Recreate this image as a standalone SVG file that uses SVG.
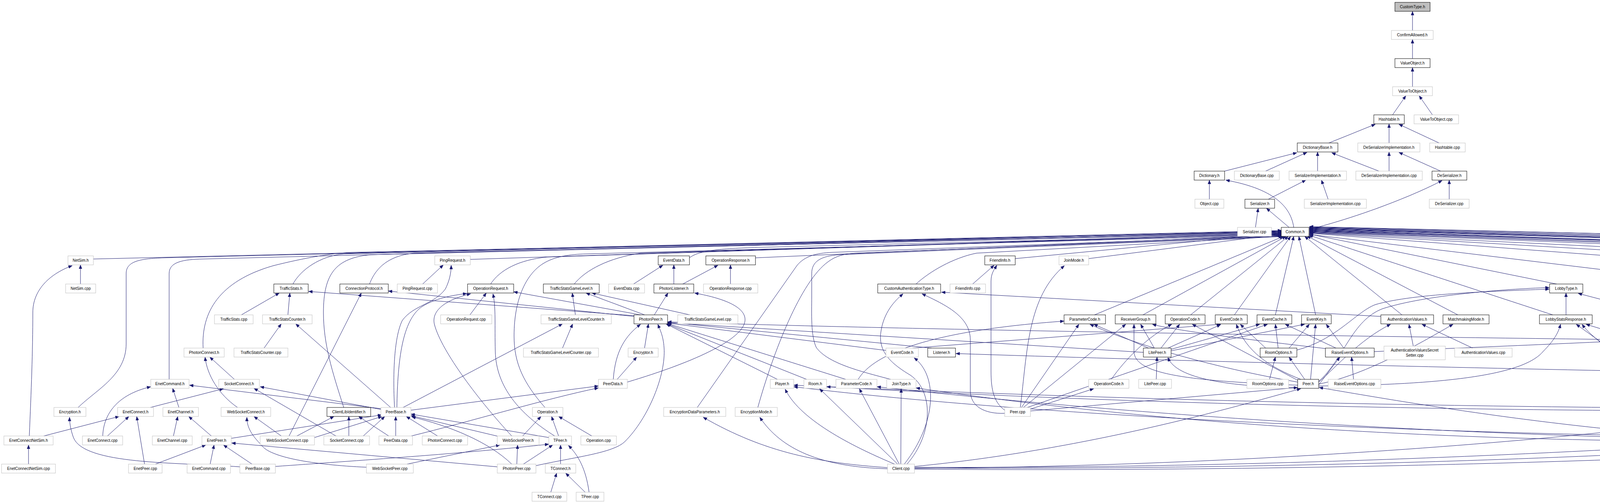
<svg xmlns="http://www.w3.org/2000/svg" width="6808" height="1285" viewBox="0 0 6808 1285">
<defs>
<style>
.n rect{fill:#ffffff;stroke:#bfbfbf;stroke-width:1}
.b rect{stroke:#000000}
.f rect{fill:#bfbfbf;stroke:#000000}
.n text{font-family:"Liberation Sans",Arial,sans-serif;font-size:10px;text-anchor:middle;fill:#000000}
#edges path{fill:none;stroke:#191970;stroke-width:1;marker-end:url(#a)}
</style>
<marker id="a" markerWidth="10" markerHeight="8" refX="10" refY="4" orient="auto" markerUnits="userSpaceOnUse"><path d="M0,0 L10,4 L0,8 z" fill="#191970" stroke="#191970" stroke-width="0.5"/></marker>
</defs>
<rect x="0" y="0" width="6808" height="1285" fill="#ffffff"/>
<g id="edges">
<path d="M3616,78 L3616,29"/>
<path d="M3616,150 L3616,101"/>
<path d="M3616,222 L3616,173"/>
<path d="M3565,294 L3599,245"/>
<path d="M3667,294 L3633,245"/>
<path d="M3402,366 L3521,318"/>
<path d="M3556,366 L3556,317"/>
<path d="M3684,366 L3581,318"/>
<path d="M3135,438 L3320,391"/>
<path d="M3240,438 L3346,390"/>
<path d="M3373,438 L3373,389"/>
<path d="M3530,438 L3409,391"/>
<path d="M3556,438 L3556,389"/>
<path d="M3688,438 L3581,390"/>
<path d="M3096,510 L3096,461"/>
<path d="M3312,582 C3305,535 3270,485 3138,461"/>
<path d="M3247,510 L3343,461"/>
<path d="M3400,510 L3383,461"/>
<path d="M3214,582 L3221,533"/>
<path d="M3300,582 L3242,533"/>
<path d="M3352,587 C3480,555 3620,500 3692,462"/>
<path d="M3710,510 L3710,461"/>
<path d="M239,663 L3281,590"/>
<path d="M200,1043 C250,995 323,960 323,880 L323,700 C323,668 360,662 420,660 L3281,591"/>
<path d="M433,971 L433,700 C433,670 470,664 520,663 L3281,592"/>
<path d="M750,727 C770,690 820,655 880,650 L3281,593"/>
<path d="M520,891 C515,800 560,720 700,680 C780,660 850,648 900,646 L3281,594"/>
<path d="M880,1043 C850,950 828,880 828,800 C828,700 860,660 950,652 L3281,595"/>
<path d="M1204,664 L3281,596"/>
<path d="M946,727 C960,690 990,655 1060,648 L3281,597"/>
<path d="M1256,727 C1280,690 1330,665 1400,658 L3281,598"/>
<path d="M1470,727 C1500,690 1560,660 1640,648 L3281,599"/>
<path d="M1765,660 C1790,640 1850,636 1950,633 L3281,600"/>
<path d="M1934,660 L3281,601"/>
<path d="M1395,1043 C1340,980 1316,930 1316,860 C1316,760 1350,700 1390,675 C1420,656 1460,651 1500,650 L3281,602"/>
<path d="M1785,1043 L2040,680 C2060,655 2090,648 2130,646 L3281,603"/>
<path d="M1940,1043 C1980,900 2050,720 2120,670 C2140,655 2160,650 2190,648 L3283,604"/>
<path d="M2280,971 C2200,950 2120,930 2090,890 C2075,860 2078,800 2078,760 L2078,700 C2078,670 2100,655 2150,652 L3284,605"/>
<path d="M2345,727 C2380,695 2440,660 2500,648 L3285,605"/>
<path d="M2599,662 L3281,597"/>
<path d="M2787,662 L3281,599"/>
<path d="M2802,806 L3286,605"/>
<path d="M2926,806 L3292,605"/>
<path d="M3048,806 L3298,605"/>
<path d="M3160,806 L3304,605"/>
<path d="M3265,806 L3312,605"/>
<path d="M3368,806 L3325,605"/>
<path d="M3589,806 L3340,605"/>
<path d="M3732,806 L3346,604"/>
<path d="M3975,806 L3351,602"/>
<path d="M3985,727 L3351,599"/>
<path d="M4198,661 L3352,597"/>
<path d="M4290,806 C4260,760 4200,700 4100,690 L3352,600"/>
<path d="M4451,660 L3352,596"/>
<path d="M4590,655 L3352,595"/>
<path d="M4880,655 L3352,594"/>
<path d="M4886,971 C4886,860 4860,720 4780,660 C4760,645 4730,642 4700,642 L3352,593"/>
<path d="M5098,806 C5080,730 5050,670 5000,650 L3352,592"/>
<path d="M5097,1116 C5060,1050 5000,1000 4996,940 L4996,700 C4996,660 4980,645 4950,640 L3352,591"/>
<path d="M5240,806 C5200,740 5140,690 5080,665 C5050,652 5020,648 4990,646 L3352,590"/>
<path d="M5374,727 C5330,690 5250,660 5150,650 L3352,589"/>
<path d="M5512,727 C5450,690 5350,660 5250,652 L3352,588"/>
<path d="M5740,971 C5900,935 5985,900 5965,860 C5945,830 5820,845 5700,840 C5660,838 5640,800 5640,760 C5640,700 5580,660 5480,650 L3352,587"/>
<path d="M5905,971 C5990,940 6010,890 5990,850 C5970,815 5920,790 5800,790 C5720,790 5700,760 5690,720 C5680,680 5620,655 5530,650 L3352,586"/>
<path d="M5800,655 L3352,585"/>
<path d="M5850,727 C5810,700 5770,665 5720,652 L3352,584"/>
<path d="M6060,655 L3352,583"/>
<path d="M6421,660 L3352,582"/>
<path d="M6293,891 C6270,780 6210,680 6150,645 L3352,581"/>
<path d="M6418,891 C6360,790 6300,690 6200,648 L3352,580"/>
<path d="M206,727 L206,678"/>
<path d="M75,1116 C80,1000 84,900 84,800 C84,740 130,700 185,680"/>
<path d="M112,1116 L305,1066"/>
<path d="M73,1188 L73,1139"/>
<path d="M614,1195 C450,1183 215,1190 188,1120 C180,1098 178,1080 178,1068"/>
<path d="M385,1043 L572,995"/>
<path d="M275,1116 L330,1066"/>
<path d="M263,1116 C265,1060 300,1010 386,990"/>
<path d="M458,1043 L442,994"/>
<path d="M444,1116 L455,1066"/>
<path d="M541,1116 L483,1066"/>
<path d="M592,1122 L977,1062"/>
<path d="M398,1188 L527,1139"/>
<path d="M370,1188 L350,1066"/>
<path d="M538,1188 L548,1139"/>
<path d="M645,1188 L572,1139"/>
<path d="M1273,1195 L593,1134"/>
<path d="M618,806 L715,750"/>
<path d="M737,806 L742,750"/>
<path d="M676,891 L720,829"/>
<path d="M1000,1043 L757,829"/>
<path d="M1623,808 L790,746"/>
<path d="M600,971 L537,914"/>
<path d="M608,1043 C560,1010 530,960 525,914"/>
<path d="M720,1116 L650,1066"/>
<path d="M760,1116 L855,1066"/>
<path d="M740,1116 L925,750"/>
<path d="M975,1048 L666,990"/>
<path d="M975,1046 L485,986"/>
<path d="M860,1116 L650,994"/>
<path d="M893,1116 L893,1066"/>
<path d="M930,1116 L985,1066"/>
<path d="M938,1196 C800,1190 690,1170 670,1140 C640,1110 632,1090 632,1068"/>
<path d="M1082,727 L1135,678"/>
<path d="M1010,1043 C1005,950 1010,860 1030,820 C1060,780 1110,780 1140,740 C1150,720 1155,700 1155,679"/>
<path d="M1203,806 L1245,750"/>
<path d="M1016,1043 C1018,920 1030,820 1080,785 C1120,760 1170,755 1195,751"/>
<path d="M1310,1116 C1230,1030 1130,900 1112,830 C1105,800 1130,770 1205,752"/>
<path d="M1420,1116 C1330,1060 1270,990 1268,900 C1266,830 1270,790 1262,752"/>
<path d="M1640,806 L1315,747"/>
<path d="M1623,810 L994,745"/>
<path d="M1473,806 L1465,750"/>
<path d="M1440,891 L1466,829"/>
<path d="M1032,1043 L1440,829"/>
<path d="M1650,806 L1500,750"/>
<path d="M1766,806 L1515,750"/>
<path d="M1622,727 L1697,679"/>
<path d="M1725,727 L1725,678"/>
<path d="M1748,727 L1838,679"/>
<path d="M1870,727 L1870,678"/>
<path d="M1675,806 L1710,750"/>
<path d="M1650,891 L1660,829"/>
<path d="M1570,971 C1575,900 1600,860 1640,830"/>
<path d="M1580,971 L1630,914"/>
<path d="M1606,978 C1700,950 1880,890 1905,830 C1920,790 1860,765 1778,750"/>
<path d="M1052,1050 L1532,988"/>
<path d="M1053,1116 C1200,1080 1400,1020 1532,993"/>
<path d="M995,1116 L918,1066"/>
<path d="M1013,1116 L1013,1066"/>
<path d="M1120,1116 L1040,1066"/>
<path d="M1280,1118 L1052,1064"/>
<path d="M1405,1120 L1052,1060"/>
<path d="M1310,1188 C1250,1130 1150,1090 1054,1067"/>
<path d="M805,1120 L978,1066"/>
<path d="M705,1194 C900,1180 1200,1160 1405,1137"/>
<path d="M1338,1116 L1385,1066"/>
<path d="M1430,1116 L1412,1066"/>
<path d="M1515,1116 L1430,1066"/>
<path d="M1042,1188 L1280,1139"/>
<path d="M1323,1188 L1325,1139"/>
<path d="M1340,1188 L1415,1139"/>
<path d="M1435,1188 L1435,1139"/>
<path d="M1410,1260 L1425,1211"/>
<path d="M1498,1260 L1448,1211"/>
<path d="M1508,1260 C1500,1200 1480,1165 1455,1140"/>
<path d="M1372,1192 C1470,1170 1570,1160 1600,1130 C1660,1070 1705,960 1700,890 C1698,860 1690,845 1684,830"/>
<path d="M2927,902 L1709,826"/>
<path d="M1990,971 L1705,829"/>
<path d="M2065,971 L1707,829"/>
<path d="M2165,971 L1708,828"/>
<path d="M2268,897 L1709,827"/>
<path d="M2385,891 L1709,825"/>
<path d="M6065,900 C5200,875 3000,865 1709,824"/>
<path d="M2272,1197 C2100,1185 1960,1160 1800,1068"/>
<path d="M2272,1200 C2100,1195 2000,1150 1945,1068"/>
<path d="M2290,1188 C2200,1150 2050,1080 2010,996"/>
<path d="M2298,1188 L2098,995"/>
<path d="M2302,1188 L2200,995"/>
<path d="M2306,1188 L2307,995"/>
<path d="M2315,1188 C2400,1080 2400,960 2340,916"/>
<path d="M2322,1188 C2390,1110 2390,1000 2330,960 C2280,930 2248,900 2255,850 C2262,800 2290,770 2312,752"/>
<path d="M2341,1196 C3200,1200 4000,1160 4454,1132"/>
<path d="M2341,1198 C3500,1205 4900,1150 5190,1066"/>
<path d="M2341,1194 C2800,1150 3200,1030 3330,995"/>
<path d="M2341,1199 C3500,1190 4500,1080 4858,1000"/>
<path d="M2341,1201 C3600,1210 4600,1160 5029,1136"/>
<path d="M2197,971 C2240,900 2400,845 2724,822"/>
<path d="M2336,891 L3125,830"/>
<path d="M2572,1050 C2545,1030 2537,1000 2537,950 L2537,720 C2537,700 2545,690 2552,679"/>
<path d="M2572,1058 C2520,1060 2484,1040 2484,1000 L2484,870 C2484,810 2420,780 2360,752"/>
<path d="M3535,810 L2410,748"/>
<path d="M2490,727 L2545,679"/>
<path d="M2612,1043 C2630,900 2630,760 2725,680"/>
<path d="M2615,1043 L2762,830"/>
<path d="M2620,1043 L2882,830"/>
<path d="M2635,1048 L2800,995"/>
<path d="M2638,1052 L3322,992"/>
<path d="M2630,1043 L3245,830"/>
<path d="M2940,891 L2800,830"/>
<path d="M2955,891 L2920,830"/>
<path d="M2972,891 L3020,830"/>
<path d="M2990,891 L3125,831"/>
<path d="M2995,895 L3225,830"/>
<path d="M2998,898 L3340,830"/>
<path d="M2960,971 L2962,914"/>
<path d="M2845,971 C2880,920 2940,860 3000,830"/>
<path d="M3322,978 C3100,940 2900,880 2790,830"/>
<path d="M3322,986 C3050,975 2905,960 2903,900 L2903,830"/>
<path d="M3325,975 L3052,830"/>
<path d="M3330,971 C3250,940 3190,900 3165,830"/>
<path d="M3355,971 L3368,830"/>
<path d="M3340,971 L3300,914"/>
<path d="M3322,992 C3150,990 3010,970 2990,915"/>
<path d="M3272,891 L3265,830"/>
<path d="M3300,891 L3352,830"/>
<path d="M3240,891 L3175,830"/>
<path d="M3320,896 C3420,870 3470,800 3520,780 C3620,750 3850,745 3966,740"/>
<path d="M3250,971 L3265,914"/>
<path d="M3420,891 L3290,830"/>
<path d="M3440,891 L3395,830"/>
<path d="M3400,893 C3200,870 3000,845 2950,830"/>
<path d="M3518,900 C4000,880 4700,850 5060,825"/>
<path d="M3465,971 L3460,914"/>
<path d="M3376,985 L3430,914"/>
<path d="M4454,1125 C4000,1100 3600,1030 3377,992"/>
<path d="M3376,978 C3420,940 3480,870 3560,830"/>
<path d="M3376,983 C3500,960 3650,870 3720,830"/>
<path d="M3376,988 C3700,985 3900,960 3950,900 C3980,870 3990,850 3995,830"/>
<path d="M3376,976 C3440,920 3460,820 3540,790 C3650,755 3850,740 3966,736"/>
<path d="M3618,886 L3607,830"/>
<path d="M3770,891 L3640,830"/>
<path d="M4009,806 L4009,750"/>
<path d="M4250,806 L4040,751"/>
<path d="M4120,891 L4035,830"/>
<path d="M4150,891 L4250,830"/>
<path d="M4454,1124 C4300,1105 4180,1080 4155,1020 C4140,980 4135,950 4135,915"/>
<path d="M4454,1121 C4300,1000 4100,900 4050,830"/>
<path d="M4260,891 L4060,830"/>
<path d="M4590,891 L4330,830"/>
<path d="M4470,1116 L4280,679"/>
<path d="M4486,1116 C4490,1010 4492,900 4440,860 C4410,840 4370,833 4336,830"/>
<path d="M4511,1130 C4700,1100 4950,1050 4950,960 L4950,760 C4950,720 4930,700 4921,679"/>
<path d="M4511,1127 L4860,996"/>
<path d="M4492,1116 C4560,1020 4740,950 4744,910 C4748,860 4680,830 4660,790 C4650,770 4645,760 4645,751"/>
<path d="M4625,727 L4525,679"/>
<path d="M4641,727 L4641,678"/>
<path d="M4522,806 L4502,679"/>
<path d="M4540,806 L4625,751"/>
<path d="M4770,806 L4660,679"/>
<path d="M4760,806 L4670,751"/>
<path d="M4660,1043 C4760,1000 4790,930 4776,900 C4750,860 4660,830 4640,790 C4635,770 4635,760 4636,751"/>
<path d="M4664,1044 L4860,995"/>
<path d="M4835,1043 L4875,995"/>
<path d="M4960,1116 L4895,995"/>
<path d="M4893,1188 L4885,995"/>
<path d="M4645,1188 C4740,1140 4750,1060 4800,1030 C4830,1010 4850,1000 4860,995"/>
<path d="M4838,1195 L4515,1138"/>
<path d="M4600,1188 L4505,1140"/>
<path d="M4672,1190 L5029,1138"/>
<path d="M5106,1188 L5106,1140"/>
<path d="M4990,1116 L5225,915"/>
<path d="M5004,1125 L5187,1060"/>
<path d="M5115,891 L5105,830"/>
<path d="M5228,891 L5125,830"/>
<path d="M5248,891 L5248,830"/>
<path d="M5282,891 L5495,826"/>
<path d="M5390,971 L5280,915"/>
<path d="M5400,971 L5265,830"/>
<path d="M5515,806 L5420,751"/>
<path d="M5527,806 L5535,751"/>
<path d="M5425,891 L5395,751"/>
<path d="M5440,891 L5510,830"/>
<path d="M5810,891 C5720,870 5630,830 5552,752"/>
<path d="M5800,893 L5555,826"/>
<path d="M5650,886 L5545,830"/>
<path d="M4948,1192 C5100,1180 5270,1150 5290,1080 C5300,1020 5280,960 5262,915"/>
<path d="M5282,1050 C5420,1030 5520,990 5525,900 L5525,830"/>
<path d="M5282,1056 C5450,1045 5560,1000 5560,900 C5560,860 5550,840 5542,830"/>
<path d="M5282,1050 L5612,995"/>
<path d="M5282,1053 L5768,995"/>
<path d="M5487,1116 L5650,995"/>
<path d="M5440,1116 L5270,1067"/>
<path d="M5760,1116 L5845,995"/>
<path d="M5680,1116 L5283,1063"/>
<path d="M5125,1116 L5205,1067"/>
<path d="M5110,1188 C5180,1170 5225,1130 5228,1067"/>
<path d="M5115,1190 C5230,1180 5250,1120 5246,1067"/>
<path d="M4511,1133 C4800,1110 5000,1075 5187,1061"/>
<path d="M4672,1196 C4900,1180 5100,1110 5190,1065"/>
<path d="M5210,1043 C5150,1010 4900,900 4760,840 C4700,810 4672,780 4665,751"/>
<path d="M4454,1119 C3600,1110 2600,1060 2032,990"/>
<path d="M5187,1050 C4000,1060 3000,1040 2116,990"/>
<path d="M5187,1047 C4000,1050 3000,1030 2032,986"/>
<path d="M4454,1126 C3500,1110 2700,1040 2245,990"/>
<path d="M4454,1130 C3500,1130 2800,1060 2345,993"/>
<path d="M5871,727 L5871,678"/>
<path d="M5822,806 L5855,751"/>
<path d="M5960,800 L5890,751"/>
<path d="M6093,891 C6100,820 6060,760 5940,742"/>
<path d="M6456,727 L6456,678"/>
<path d="M6595,727 L6490,677"/>
<path d="M6720,729 L6491,672"/>
<path d="M6112,971 L6098,914"/>
<path d="M6125,971 L6440,679"/>
<path d="M6087,978 C5000,970 3500,940 2447,905"/>
<path d="M6300,971 L6120,911"/>
<path d="M6320,971 L6305,914"/>
<path d="M6340,971 L6405,914"/>
<path d="M6215,1043 L6140,995"/>
<path d="M6228,1043 C6210,960 6206,870 6206,810 C6206,740 6150,700 6121,680"/>
<path d="M6236,1043 L6285,915"/>
<path d="M6266,1050 C6350,1020 6410,970 6418,915"/>
</g>
<g id="nodes">
<g id="n-CustomType_h" class="n f"><rect x="3571" y="6" width="90" height="23"/><text x="3616" y="21">CustomType.h</text></g>
<g id="n-ConfirmAllowed_h" class="n"><rect x="3562" y="78" width="107" height="23"/><text x="3615.5" y="93">ConfirmAllowed.h</text></g>
<g id="n-ValueObject_h" class="n b"><rect x="3571" y="150" width="90" height="23"/><text x="3616" y="165">ValueObject.h</text></g>
<g id="n-ValueToObject_h" class="n"><rect x="3565" y="222" width="102" height="23"/><text x="3616" y="237">ValueToObject.h</text></g>
<g id="n-Hashtable_h" class="n b"><rect x="3517" y="294" width="78" height="23"/><text x="3556" y="309">Hashtable.h</text></g>
<g id="n-ValueToObject_cpp" class="n"><rect x="3620" y="294" width="114" height="23"/><text x="3677" y="309">ValueToObject.cpp</text></g>
<g id="n-DictionaryBase_h" class="n b"><rect x="3321" y="366" width="104" height="23"/><text x="3373" y="381">DictionaryBase.h</text></g>
<g id="n-DeSerializerImplementation_h" class="n"><rect x="3476" y="366" width="159" height="23"/><text x="3555.5" y="381">DeSerializerImplementation.h</text></g>
<g id="n-Hashtable_cpp" class="n"><rect x="3660" y="366" width="91" height="23"/><text x="3705.5" y="381">Hashtable.cpp</text></g>
<g id="n-Dictionary_h" class="n b"><rect x="3057" y="438" width="78" height="23"/><text x="3096" y="453">Dictionary.h</text></g>
<g id="n-DictionaryBase_cpp" class="n"><rect x="3160" y="438" width="115" height="23"/><text x="3217.5" y="453">DictionaryBase.cpp</text></g>
<g id="n-SerializerImplementation_h" class="n"><rect x="3300" y="438" width="147" height="23"/><text x="3373.5" y="453">SerializerImplementation.h</text></g>
<g id="n-DeSerializerImplementation_cpp" class="n"><rect x="3471" y="438" width="170" height="23"/><text x="3556" y="453">DeSerializerImplementation.cpp</text></g>
<g id="n-DeSerializer_h" class="n b"><rect x="3666" y="438" width="89" height="23"/><text x="3710.5" y="453">DeSerializer.h</text></g>
<g id="n-Object_cpp" class="n"><rect x="3059" y="510" width="74" height="23"/><text x="3096" y="525">Object.cpp</text></g>
<g id="n-Serializer_h" class="n b"><rect x="3187" y="510" width="76" height="23"/><text x="3225" y="525">Serializer.h</text></g>
<g id="n-SerializerImplementation_cpp" class="n"><rect x="3339" y="510" width="159" height="23"/><text x="3418.5" y="525">SerializerImplementation.cpp</text></g>
<g id="n-DeSerializer_cpp" class="n"><rect x="3659" y="510" width="102" height="23"/><text x="3710" y="525">DeSerializer.cpp</text></g>
<g id="n-Serializer_cpp" class="n"><rect x="3168" y="582" width="87" height="23"/><text x="3211.5" y="597">Serializer.cpp</text></g>
<g id="n-Common_h" class="n b"><rect x="3280" y="582" width="71" height="23"/><text x="3315.5" y="597">Common.h</text></g>
<g id="n-NetSim_h" class="n"><rect x="174" y="655" width="65" height="23"/><text x="206.5" y="670">NetSim.h</text></g>
<g id="n-PingRequest_h" class="n"><rect x="1113" y="655" width="91" height="23"/><text x="1158.5" y="670">PingRequest.h</text></g>
<g id="n-EventData_h" class="n b"><rect x="1685" y="655" width="80" height="23"/><text x="1725" y="670">EventData.h</text></g>
<g id="n-OperationResponse_h" class="n b"><rect x="1807" y="655" width="127" height="23"/><text x="1870.5" y="670">OperationResponse.h</text></g>
<g id="n-FriendInfo_h" class="n b"><rect x="2521" y="655" width="78" height="23"/><text x="2560" y="670">FriendInfo.h</text></g>
<g id="n-JoinMode_h" class="n"><rect x="2711" y="655" width="76" height="23"/><text x="2749" y="670">JoinMode.h</text></g>
<g id="n-RegionSelectionMode_h" class="n b"><rect x="4198" y="655" width="134" height="23"/><text x="4265" y="670">RegionSelectionMode.h</text></g>
<g id="n-RoomFactory_h" class="n"><rect x="4451" y="655" width="95" height="23"/><text x="4498.5" y="670">RoomFactory.h</text></g>
<g id="n-RoomPropertiesCacher_h" class="n"><rect x="4570" y="655" width="142" height="23"/><text x="4641" y="670">RoomPropertiesCacher.h</text></g>
<g id="n-ServerType_h" class="n b"><rect x="4870" y="655" width="89" height="23"/><text x="4914.5" y="670">ServerType.h</text></g>
<g id="n-CustomAuthenticationType_h-2" class="n b"><rect x="5791" y="655" width="160" height="23"/><text x="5871" y="670">CustomAuthenticationType.h</text></g>
<g id="n-EventCode_h-chat" class="n"><rect x="6056" y="655" width="82" height="23"/><text x="6097" y="670">EventCode.h</text></g>
<g id="n-Channel_h" class="n b"><rect x="6421" y="655" width="70" height="23"/><text x="6456" y="670">Channel.h</text></g>
<g id="n-NetSim_cpp" class="n"><rect x="168" y="727" width="77" height="23"/><text x="206.5" y="742">NetSim.cpp</text></g>
<g id="n-TrafficStats_h" class="n b"><rect x="701" y="727" width="88" height="23"/><text x="745" y="742">TrafficStats.h</text></g>
<g id="n-ConnectionProtocol_h" class="n b"><rect x="870" y="727" width="124" height="23"/><text x="932" y="742">ConnectionProtocol.h</text></g>
<g id="n-PingRequest_cpp" class="n"><rect x="1017" y="727" width="103" height="23"/><text x="1068.5" y="742">PingRequest.cpp</text></g>
<g id="n-OperationRequest_h" class="n b"><rect x="1197" y="727" width="118" height="23"/><text x="1256" y="742">OperationRequest.h</text></g>
<g id="n-TrafficStatsGameLevel_h" class="n b"><rect x="1391" y="727" width="143" height="23"/><text x="1462.5" y="742">TrafficStatsGameLevel.h</text></g>
<g id="n-EventData_cpp" class="n"><rect x="1558" y="727" width="92" height="23"/><text x="1604" y="742">EventData.cpp</text></g>
<g id="n-PhotonListener_h" class="n b"><rect x="1674" y="727" width="102" height="23"/><text x="1725" y="742">PhotonListener.h</text></g>
<g id="n-OperationResponse_cpp" class="n"><rect x="1801" y="727" width="139" height="23"/><text x="1870.5" y="742">OperationResponse.cpp</text></g>
<g id="n-CustomAuthenticationType_h-1" class="n b"><rect x="2247" y="727" width="161" height="23"/><text x="2327.5" y="742">CustomAuthenticationType.h</text></g>
<g id="n-FriendInfo_cpp" class="n"><rect x="2432" y="727" width="91" height="23"/><text x="2477.5" y="742">FriendInfo.cpp</text></g>
<g id="n-LobbyType_h" class="n b"><rect x="3967" y="727" width="85" height="23"/><text x="4009.5" y="742">LobbyType.h</text></g>
<g id="n-Room_h" class="n b"><rect x="4612" y="727" width="59" height="23"/><text x="4641.5" y="742">Room.h</text></g>
<g id="n-PlayerFactory_h" class="n"><rect x="5341" y="727" width="99" height="23"/><text x="5390.5" y="742">PlayerFactory.h</text></g>
<g id="n-PlayerPropertiesCacher_h" class="n"><rect x="5465" y="727" width="145" height="23"/><text x="5537.5" y="742">PlayerPropertiesCacher.h</text></g>
<g id="n-AuthenticationValues_h-2" class="n b"><rect x="5804" y="727" width="134" height="23"/><text x="5871" y="742">AuthenticationValues.h</text></g>
<g id="n-ChannelFactory_cpp" class="n"><rect x="6397" y="727" width="118" height="23"/><text x="6456" y="742">ChannelFactory.cpp</text></g>
<g id="n-ChannelMessageAdder_cpp" class="n"><rect x="6539" y="727" width="156" height="23"/><text x="6617" y="742">ChannelMessageAdder.cpp</text></g>
<g id="n-Channel_cpp" class="n"><rect x="6720" y="727" width="83" height="23"/><text x="6761.5" y="742">Channel.cpp</text></g>
<g id="n-TrafficStats_cpp" class="n"><rect x="549" y="806" width="99" height="23"/><text x="598.5" y="821">TrafficStats.cpp</text></g>
<g id="n-TrafficStatsCounter_h" class="n"><rect x="672" y="806" width="127" height="23"/><text x="735.5" y="821">TrafficStatsCounter.h</text></g>
<g id="n-OperationRequest_cpp" class="n"><rect x="1128" y="806" width="131" height="23"/><text x="1193.5" y="821">OperationRequest.cpp</text></g>
<g id="n-TrafficStatsGameLevelCounter_h" class="n"><rect x="1385" y="806" width="180" height="23"/><text x="1475" y="821">TrafficStatsGameLevelCounter.h</text></g>
<g id="n-PhotonPeer_h" class="n b"><rect x="1623" y="806" width="86" height="23"/><text x="1666" y="821">PhotonPeer.h</text></g>
<g id="n-TrafficStatsGameLevel_cpp" class="n"><rect x="1735" y="806" width="154" height="23"/><text x="1812" y="821">TrafficStatsGameLevel.cpp</text></g>
<g id="n-ParameterCode_h-lite" class="n b"><rect x="2724" y="806" width="106" height="23"/><text x="2777" y="821">ParameterCode.h</text></g>
<g id="n-ReceiverGroup_h" class="n b"><rect x="2855" y="806" width="104" height="23"/><text x="2907" y="821">ReceiverGroup.h</text></g>
<g id="n-OperationCode_h-lite" class="n b"><rect x="2983" y="806" width="102" height="23"/><text x="3034" y="821">OperationCode.h</text></g>
<g id="n-EventCode_h-lite" class="n b"><rect x="3111" y="806" width="82" height="23"/><text x="3152" y="821">EventCode.h</text></g>
<g id="n-EventCache_h" class="n b"><rect x="3218" y="806" width="89" height="23"/><text x="3262.5" y="821">EventCache.h</text></g>
<g id="n-EventKey_h" class="n b"><rect x="3332" y="806" width="76" height="23"/><text x="3370" y="821">EventKey.h</text></g>
<g id="n-AuthenticationValues_h-1" class="n b"><rect x="3535" y="806" width="135" height="23"/><text x="3602.5" y="821">AuthenticationValues.h</text></g>
<g id="n-MatchmakingMode_h" class="n b"><rect x="3694" y="806" width="118" height="23"/><text x="3753" y="821">MatchmakingMode.h</text></g>
<g id="n-LobbyStatsResponse_h" class="n b"><rect x="3941" y="806" width="135" height="23"/><text x="4008.5" y="821">LobbyStatsResponse.h</text></g>
<g id="n-LobbyStatsRequest_h" class="n b"><rect x="4218" y="806" width="126" height="23"/><text x="4281" y="821">LobbyStatsRequest.h</text></g>
<g id="n-RoomFactory_cpp" class="n"><rect x="4470" y="806" width="107" height="23"/><text x="4523.5" y="821">RoomFactory.cpp</text></g>
<g id="n-RoomPropertiesCacher_cpp" class="n"><rect x="4703" y="806" width="154" height="23"/><text x="4780" y="821">RoomPropertiesCacher.cpp</text></g>
<g id="n-WebFlags_h" class="n b"><rect x="5061" y="806" width="78" height="23"/><text x="5100" y="821">WebFlags.h</text></g>
<g id="n-MutablePlayerFactory_h" class="n"><rect x="5181" y="806" width="134" height="23"/><text x="5248" y="821">MutablePlayerFactory.h</text></g>
<g id="n-Player_h" class="n b"><rect x="5494" y="806" width="61" height="23"/><text x="5524.5" y="821">Player.h</text></g>
<g id="n-AuthenticationValues_cpp-2" class="n"><rect x="5740" y="806" width="146" height="23"/><text x="5813" y="821">AuthenticationValues.cpp</text></g>
<g id="n-AuthenticationValuesSecretSetter_cpp-2" class="n"><rect x="5911" y="800" width="157" height="35"/><text x="5989.5" y="814">AuthenticationValuesSecret</text><text x="5989.5" y="827">Setter.cpp</text></g>
<g id="n-PhotonConnect_h" class="n"><rect x="471" y="891" width="103" height="23"/><text x="522.5" y="906">PhotonConnect.h</text></g>
<g id="n-TrafficStatsCounter_cpp" class="n"><rect x="599" y="891" width="138" height="23"/><text x="668" y="906">TrafficStatsCounter.cpp</text></g>
<g id="n-TrafficStatsGameLevelCounter_cpp" class="n"><rect x="1340" y="891" width="192" height="23"/><text x="1436" y="906">TrafficStatsGameLevelCounter.cpp</text></g>
<g id="n-Encryptor_h" class="n"><rect x="1608" y="891" width="77" height="23"/><text x="1646.5" y="906">Encryptor.h</text></g>
<g id="n-EventCode_h-lb" class="n"><rect x="2268" y="891" width="83" height="23"/><text x="2309.5" y="906">EventCode.h</text></g>
<g id="n-Listener_h-1" class="n b"><rect x="2375" y="891" width="71" height="23"/><text x="2410.5" y="906">Listener.h</text></g>
<g id="n-LitePeer_h" class="n b"><rect x="2927" y="891" width="71" height="23"/><text x="2962.5" y="906">LitePeer.h</text></g>
<g id="n-RoomOptions_h" class="n b"><rect x="3226" y="891" width="94" height="23"/><text x="3273" y="906">RoomOptions.h</text></g>
<g id="n-RaiseEventOptions_h" class="n b"><rect x="3393" y="891" width="125" height="23"/><text x="3455.5" y="906">RaiseEventOptions.h</text></g>
<g id="n-AuthenticationValuesSecretSetter_cpp-1" class="n"><rect x="3543" y="886" width="157" height="35"/><text x="3621.5" y="900">AuthenticationValuesSecret</text><text x="3621.5" y="913">Setter.cpp</text></g>
<g id="n-AuthenticationValues_cpp-1" class="n"><rect x="3724" y="891" width="147" height="23"/><text x="3797.5" y="906">AuthenticationValues.cpp</text></g>
<g id="n-Listener_h-2" class="n b"><rect x="4098" y="891" width="71" height="23"/><text x="4133.5" y="906">Listener.h</text></g>
<g id="n-LobbyStatsResponse_cpp" class="n"><rect x="4243" y="891" width="147" height="23"/><text x="4316.5" y="906">LobbyStatsResponse.cpp</text></g>
<g id="n-LobbyStatsRequest_cpp" class="n"><rect x="4567" y="891" width="138" height="23"/><text x="4636" y="906">LobbyStatsRequest.cpp</text></g>
<g id="n-WebFlags_cpp" class="n"><rect x="5084" y="891" width="90" height="23"/><text x="5129" y="906">WebFlags.cpp</text></g>
<g id="n-MutablePlayer_h" class="n b"><rect x="5199" y="891" width="98" height="23"/><text x="5248" y="906">MutablePlayer.h</text></g>
<g id="n-PlayerFactory_cpp" class="n"><rect x="5373" y="891" width="109" height="23"/><text x="5427.5" y="906">PlayerFactory.cpp</text></g>
<g id="n-PlayerMutableRoomPointerSetter_cpp" class="n"><rect x="5610" y="886" width="148" height="35"/><text x="5684" y="900">PlayerMutableRoomPointer</text><text x="5684" y="913">Setter.cpp</text></g>
<g id="n-PlayerPropertiesCacher_cpp" class="n"><rect x="5782" y="891" width="157" height="23"/><text x="5860.5" y="906">PlayerPropertiesCacher.cpp</text></g>
<g id="n-Peer_h-chat" class="n b"><rect x="6065" y="891" width="54" height="23"/><text x="6092" y="906">Peer.h</text></g>
<g id="n-OperationCode_h-chat" class="n"><rect x="6245" y="891" width="102" height="23"/><text x="6296" y="906">OperationCode.h</text></g>
<g id="n-ParameterCode_h-chat" class="n"><rect x="6371" y="891" width="105" height="23"/><text x="6423.5" y="906">ParameterCode.h</text></g>
<g id="n-EnetCommand_h" class="n"><rect x="386" y="971" width="98" height="23"/><text x="435" y="986">EnetCommand.h</text></g>
<g id="n-SocketConnect_h" class="n"><rect x="560" y="971" width="104" height="23"/><text x="612" y="986">SocketConnect.h</text></g>
<g id="n-PeerData_h" class="n"><rect x="1532" y="971" width="74" height="23"/><text x="1569" y="986">PeerData.h</text></g>
<g id="n-Player_h-13" class="n"><rect x="1972" y="971" width="60" height="23"/><text x="2002" y="986">Player.h</text></g>
<g id="n-Room_h-13" class="n"><rect x="2058" y="971" width="58" height="23"/><text x="2087" y="986">Room.h</text></g>
<g id="n-ParameterCode_h-13" class="n"><rect x="2140" y="971" width="105" height="23"/><text x="2192.5" y="986">ParameterCode.h</text></g>
<g id="n-JoinType_h" class="n"><rect x="2270" y="971" width="75" height="23"/><text x="2307.5" y="986">JoinType.h</text></g>
<g id="n-OperationCode_h-13" class="n"><rect x="2787" y="971" width="103" height="23"/><text x="2838.5" y="986">OperationCode.h</text></g>
<g id="n-LitePeer_cpp" class="n"><rect x="2915" y="971" width="84" height="23"/><text x="2957" y="986">LitePeer.cpp</text></g>
<g id="n-RoomOptions_cpp" class="n"><rect x="3192" y="971" width="107" height="23"/><text x="3245.5" y="986">RoomOptions.cpp</text></g>
<g id="n-Peer_h-lb" class="n b"><rect x="3322" y="971" width="54" height="23"/><text x="3349" y="986">Peer.h</text></g>
<g id="n-RaiseEventOptions_cpp" class="n"><rect x="3400" y="971" width="135" height="23"/><text x="3467.5" y="986">RaiseEventOptions.cpp</text></g>
<g id="n-Utils_h" class="n"><rect x="4858" y="971" width="50" height="23"/><text x="4883" y="986">Utils.h</text></g>
<g id="n-MutablePlayerFactory_cpp" class="n"><rect x="5337" y="971" width="147" height="23"/><text x="5410.5" y="986">MutablePlayerFactory.cpp</text></g>
<g id="n-MutableRoomFactory_h" class="n"><rect x="5610" y="971" width="131" height="23"/><text x="5675.5" y="986">MutableRoomFactory.h</text></g>
<g id="n-PlayerPropertiesUpdateInformant_h" class="n"><rect x="5766" y="971" width="190" height="23"/><text x="5861" y="986">PlayerPropertiesUpdateInformant.h</text></g>
<g id="n-Client_h-chat" class="n b"><rect x="6087" y="971" width="57" height="23"/><text x="6115.5" y="986">Client.h</text></g>
<g id="n-Peer_cpp-chat" class="n"><rect x="6295" y="971" width="65" height="23"/><text x="6327.5" y="986">Peer.cpp</text></g>
<g id="n-Encryption_h" class="n"><rect x="138" y="1043" width="82" height="23"/><text x="179" y="1058">Encryption.h</text></g>
<g id="n-EnetConnect_h" class="n"><rect x="301" y="1043" width="92" height="23"/><text x="347" y="1058">EnetConnect.h</text></g>
<g id="n-EnetChannel_h" class="n"><rect x="417" y="1043" width="91" height="23"/><text x="462.5" y="1058">EnetChannel.h</text></g>
<g id="n-WebSocketConnect_h" class="n"><rect x="566" y="1043" width="127" height="23"/><text x="629.5" y="1058">WebSocketConnect.h</text></g>
<g id="n-ClientLibIdentifier_h" class="n b"><rect x="837" y="1043" width="112" height="23"/><text x="893" y="1058">ClientLibIdentifier.h</text></g>
<g id="n-PeerBase_h" class="n"><rect x="975" y="1043" width="77" height="23"/><text x="1013.5" y="1058">PeerBase.h</text></g>
<g id="n-Operation_h" class="n"><rect x="1363" y="1043" width="78" height="23"/><text x="1402" y="1058">Operation.h</text></g>
<g id="n-EncryptionDataParameters_h" class="n"><rect x="1699" y="1043" width="159" height="23"/><text x="1778.5" y="1058">EncryptionDataParameters.h</text></g>
<g id="n-EncryptionMode_h" class="n"><rect x="1882" y="1043" width="108" height="23"/><text x="1936" y="1058">EncryptionMode.h</text></g>
<g id="n-Peer_cpp-lb" class="n"><rect x="2572" y="1043" width="66" height="23"/><text x="2605" y="1058">Peer.cpp</text></g>
<g id="n-Room_cpp" class="n"><rect x="4597" y="1043" width="70" height="23"/><text x="4632" y="1058">Room.cpp</text></g>
<g id="n-Utils_cpp" class="n"><rect x="4794" y="1043" width="63" height="23"/><text x="4825.5" y="1058">Utils.cpp</text></g>
<g id="n-MutableRoom_h" class="n b"><rect x="5187" y="1043" width="95" height="23"/><text x="5234.5" y="1058">MutableRoom.h</text></g>
<g id="n-Client_cpp-chat" class="n"><rect x="6198" y="1043" width="68" height="23"/><text x="6232" y="1058">Client.cpp</text></g>
<g id="n-EnetConnectNetSim_h" class="n"><rect x="10" y="1116" width="126" height="23"/><text x="73" y="1131">EnetConnectNetSim.h</text></g>
<g id="n-EnetConnect_cpp" class="n"><rect x="211" y="1116" width="103" height="23"/><text x="262.5" y="1131">EnetConnect.cpp</text></g>
<g id="n-EnetChannel_cpp" class="n"><rect x="390" y="1116" width="102" height="23"/><text x="441" y="1131">EnetChannel.cpp</text></g>
<g id="n-EnetPeer_h" class="n"><rect x="517" y="1116" width="75" height="23"/><text x="554.5" y="1131">EnetPeer.h</text></g>
<g id="n-WebSocketConnect_cpp" class="n"><rect x="666" y="1116" width="139" height="23"/><text x="735.5" y="1131">WebSocketConnect.cpp</text></g>
<g id="n-SocketConnect_cpp" class="n"><rect x="829" y="1116" width="117" height="23"/><text x="887.5" y="1131">SocketConnect.cpp</text></g>
<g id="n-PeerData_cpp" class="n"><rect x="970" y="1116" width="86" height="23"/><text x="1013" y="1131">PeerData.cpp</text></g>
<g id="n-PhotonConnect_cpp" class="n"><rect x="1081" y="1116" width="116" height="23"/><text x="1139" y="1131">PhotonConnect.cpp</text></g>
<g id="n-WebSocketPeer_h" class="n"><rect x="1273" y="1116" width="107" height="23"/><text x="1326.5" y="1131">WebSocketPeer.h</text></g>
<g id="n-TPeer_h" class="n"><rect x="1405" y="1116" width="58" height="23"/><text x="1434" y="1131">TPeer.h</text></g>
<g id="n-Operation_cpp" class="n"><rect x="1487" y="1116" width="91" height="23"/><text x="1532.5" y="1131">Operation.cpp</text></g>
<g id="n-Client_h-lb" class="n b"><rect x="4454" y="1116" width="57" height="23"/><text x="4482.5" y="1131">Client.h</text></g>
<g id="n-Player_cpp" class="n"><rect x="4931" y="1116" width="73" height="23"/><text x="4967.5" y="1131">Player.cpp</text></g>
<g id="n-PlayerMovementInformant_h" class="n"><rect x="5029" y="1116" width="154" height="23"/><text x="5106" y="1131">PlayerMovementInformant.h</text></g>
<g id="n-MutableRoomFactory_cpp" class="n"><rect x="5402" y="1116" width="143" height="23"/><text x="5473.5" y="1131">MutableRoomFactory.cpp</text></g>
<g id="n-PlayerPropertiesUpdateInformant_cpp" class="n"><rect x="5652" y="1116" width="202" height="23"/><text x="5753" y="1131">PlayerPropertiesUpdateInformant.cpp</text></g>
<g id="n-EnetConnectNetSim_cpp" class="n"><rect x="4" y="1188" width="138" height="23"/><text x="73" y="1203">EnetConnectNetSim.cpp</text></g>
<g id="n-EnetPeer_cpp" class="n"><rect x="329" y="1188" width="86" height="23"/><text x="372" y="1203">EnetPeer.cpp</text></g>
<g id="n-EnetCommand_cpp" class="n"><rect x="479" y="1188" width="111" height="23"/><text x="534.5" y="1203">EnetCommand.cpp</text></g>
<g id="n-PeerBase_cpp" class="n"><rect x="614" y="1188" width="91" height="23"/><text x="659.5" y="1203">PeerBase.cpp</text></g>
<g id="n-WebSocketPeer_cpp" class="n"><rect x="938" y="1188" width="120" height="23"/><text x="998" y="1203">WebSocketPeer.cpp</text></g>
<g id="n-PhotonPeer_cpp" class="n"><rect x="1273" y="1188" width="99" height="23"/><text x="1322.5" y="1203">PhotonPeer.cpp</text></g>
<g id="n-TConnect_h" class="n"><rect x="1396" y="1188" width="78" height="23"/><text x="1435" y="1203">TConnect.h</text></g>
<g id="n-Client_cpp-lb" class="n"><rect x="2272" y="1188" width="69" height="23"/><text x="2306.5" y="1203">Client.cpp</text></g>
<g id="n-MutableRoom_cpp" class="n"><rect x="4565" y="1188" width="107" height="23"/><text x="4618.5" y="1203">MutableRoom.cpp</text></g>
<g id="n-MutablePlayer_cpp" class="n"><rect x="4838" y="1188" width="110" height="23"/><text x="4893" y="1203">MutablePlayer.cpp</text></g>
<g id="n-PlayerMovementInformant_cpp" class="n"><rect x="5023" y="1188" width="167" height="23"/><text x="5106.5" y="1203">PlayerMovementInformant.cpp</text></g>
<g id="n-TConnect_cpp" class="n"><rect x="1362" y="1260" width="89" height="23"/><text x="1406.5" y="1275">TConnect.cpp</text></g>
<g id="n-TPeer_cpp" class="n"><rect x="1475" y="1260" width="71" height="23"/><text x="1510.5" y="1275">TPeer.cpp</text></g>
</g>
</svg>
